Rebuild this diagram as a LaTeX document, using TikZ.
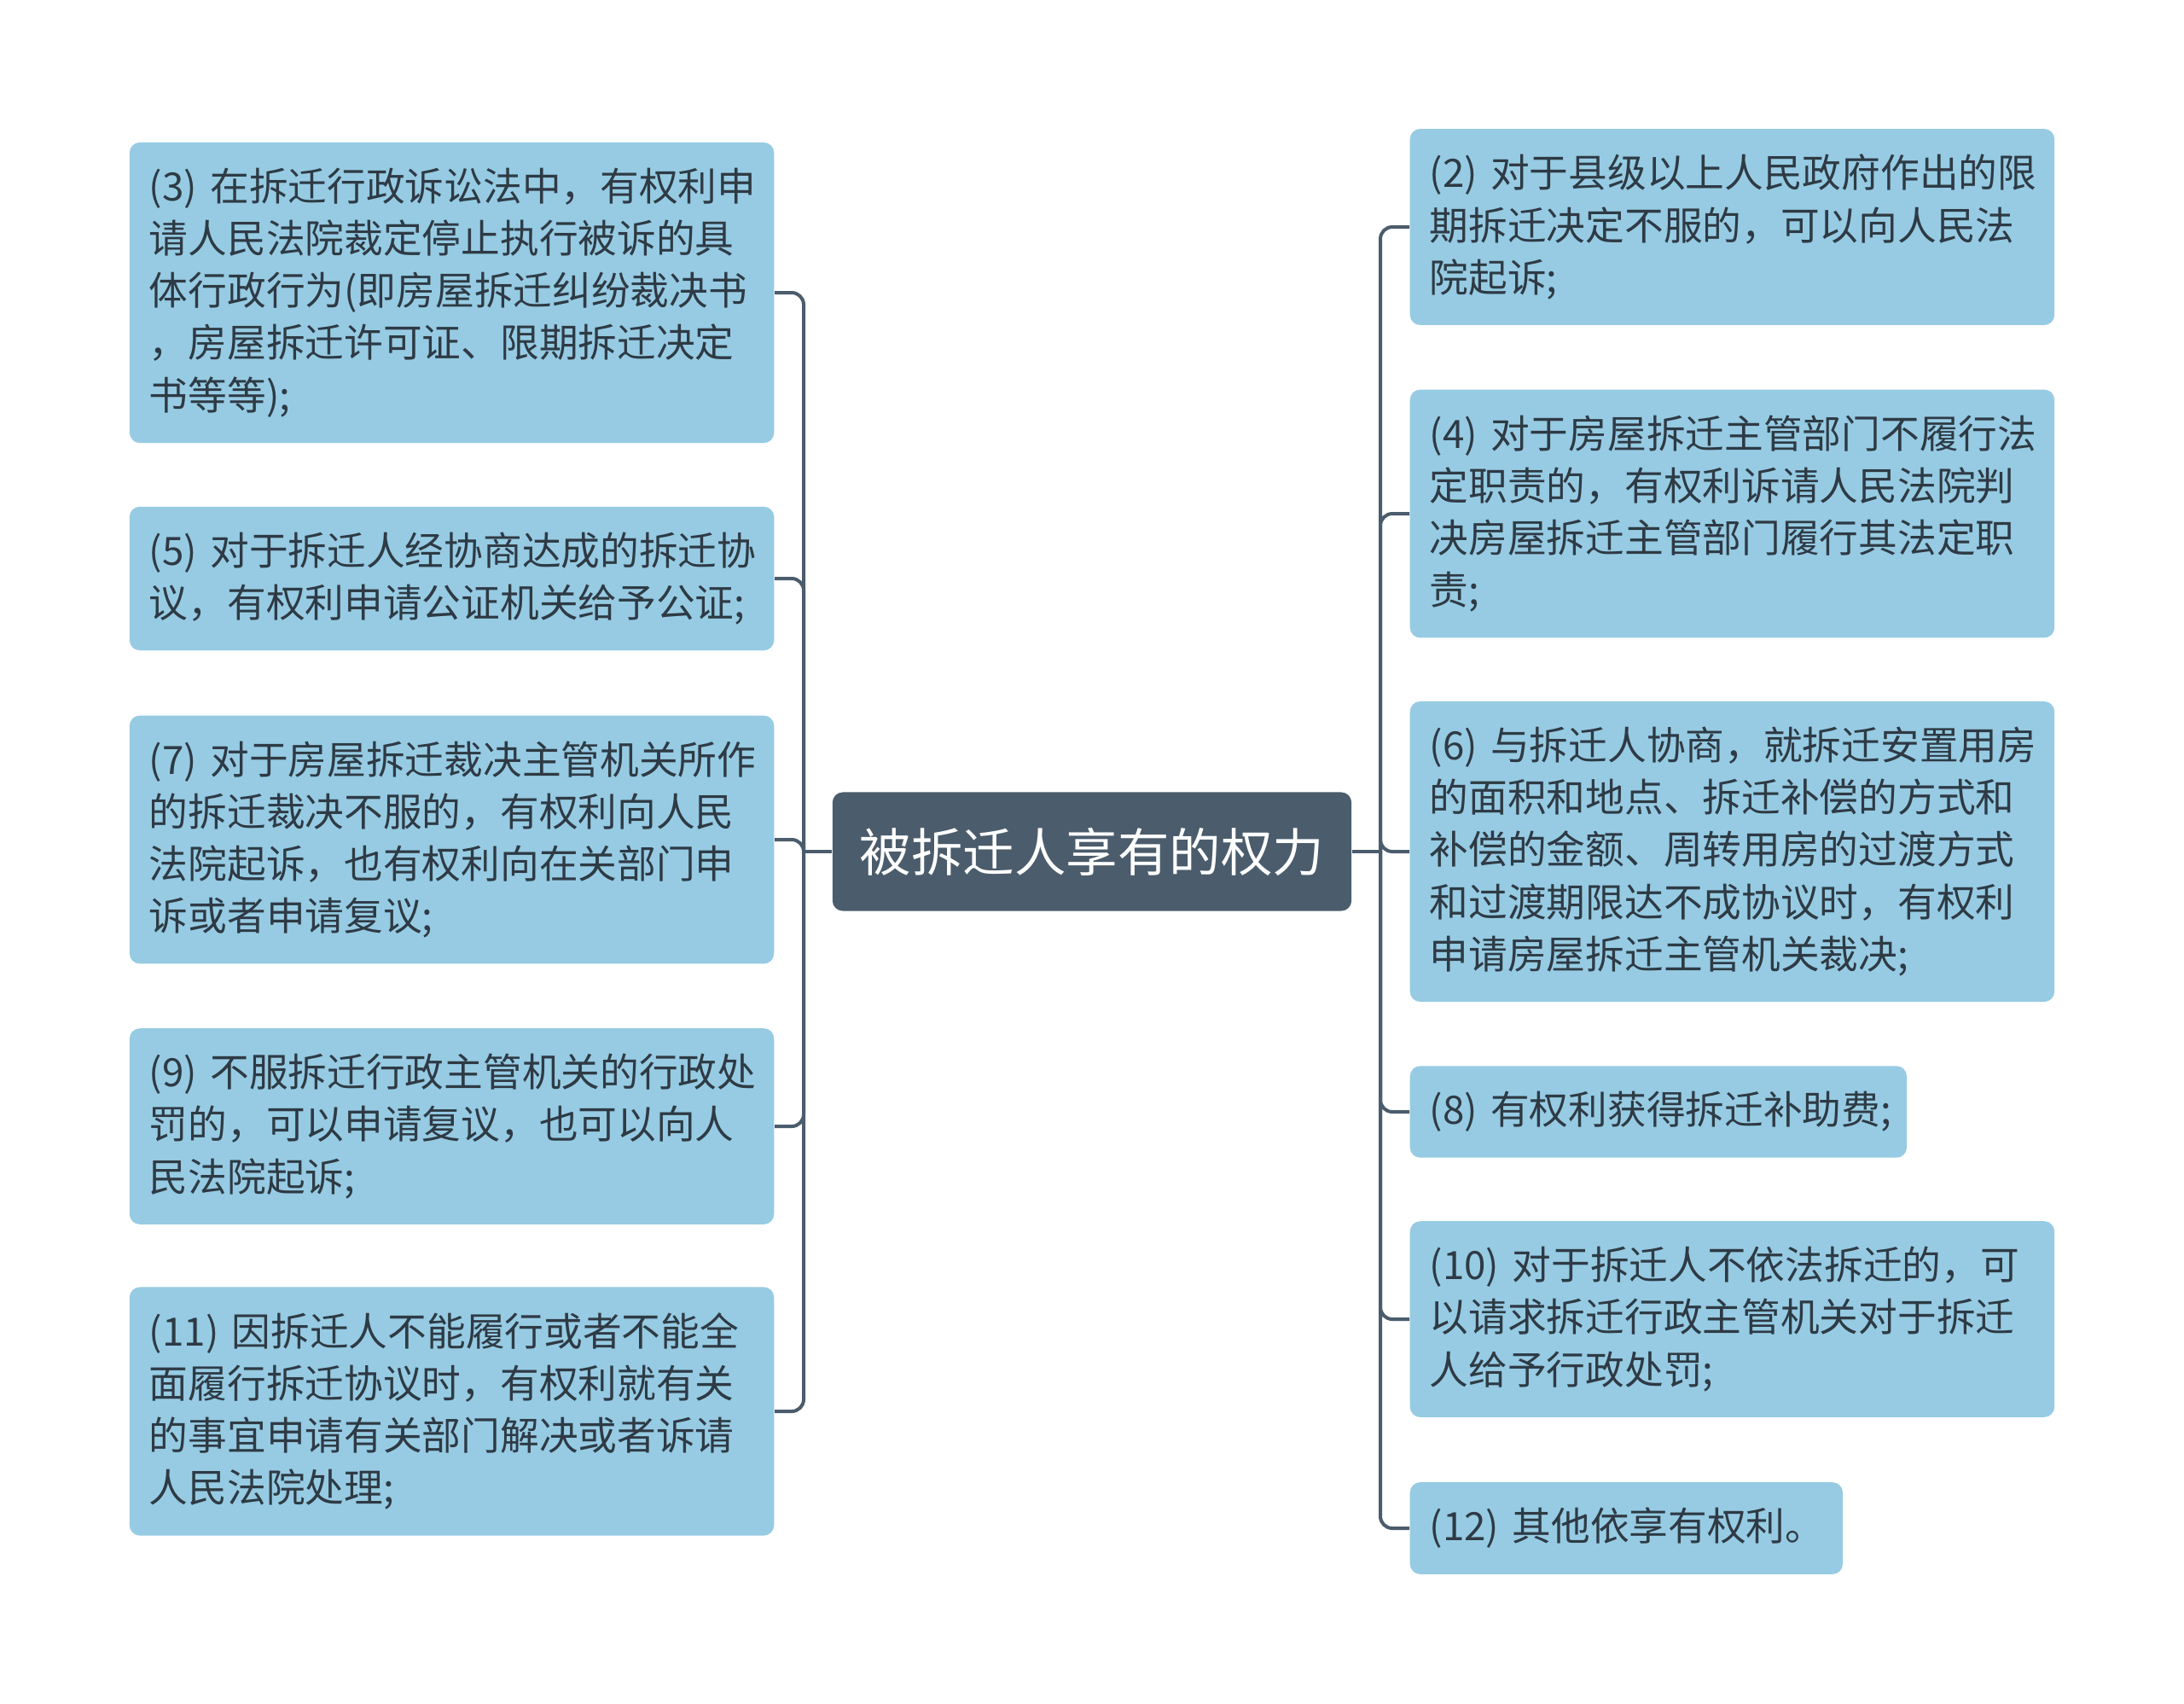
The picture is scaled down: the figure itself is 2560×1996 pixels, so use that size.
\documentclass[tikz,border=0pt]{standalone}
\usepackage{fontspec}
\setmainfont{Noto Sans CJK SC}
\definecolor{leafblue}{HTML}{96CBE3}
\definecolor{slate}{HTML}{4B5C6C}
\definecolor{ink}{HTML}{2E3A44}
\tikzset{
  leaf/.style={fill=leafblue, rounded corners=0.12cm, text=ink, align=left,
    text width=7.09cm, inner xsep=0.23cm, inner ysep=0.3cm,
    font=\fontsize{13pt}{17.4pt}\selectfont},
  root/.style={fill=slate, rounded corners=0.12cm, text=white,
    minimum width=6.08cm, minimum height=1.39cm,
    font=\fontsize{17.2pt}{20pt}\selectfont},
  link/.style={draw=slate, line width=0.04cm, rounded corners=0.14cm}
}
\begin{document}
\begin{tikzpicture}[x=0.01cm, y=-0.01cm]
\useasboundingbox (0,0) rectangle (2560,1996);
\node[root] (root) at (1280,998) {被拆迁人享有的权力};
% left side
\node[leaf, anchor=east] (c3) at (908,343) {(3)~在拆迁行政诉讼法中，有权利申\\请人民法院裁定停止执行被诉的具\\体行政行为(即房屋拆迁纠纷裁决书\\，房屋拆迁许可证、限期拆迁决定\\书等等);};
\node[leaf, anchor=east] (c5) at (908,678) {(5)~对于拆迁人经协商达成的拆迁协\\议，有权利申请公证机关给予公证;};
\node[leaf, anchor=east] (c7) at (908,984) {(7)~对于房屋拆迁裁决主管机关所作\\的拆迁裁决不服的，有权利向人民\\法院起诉，也有权利向在关部门申\\诉或者申请复议;};
\node[leaf, anchor=east] (c9) at (908,1320) {(9)~不服拆迁行政主管机关的行政处\\罚的，可以申请复议，也可以向人\\民法院起诉;};
\node[leaf, anchor=east] (c11) at (908,1654) {(11)~因拆迁人不能履行或者不能全\\面履行拆迁协议时，有权利就有关\\的事宜申请有关部门解决或者诉请\\人民法院处理;};
% right side
\node[leaf, anchor=west] (c2) at (1652,266) {(2)~对于县级以上人民政府作出的限\\期拆迁决定不服的，可以向人民法\\院起诉;};
\node[leaf, anchor=west] (c4) at (1652,602) {(4)~对于房屋拆迁主管部门不履行法\\定职责的，有权利诉请人民法院判\\决房屋拆迁主管部门履行其法定职\\责;};
\node[leaf, anchor=west] (c6) at (1652,998) {(6)~与拆迁人协商，就拆迁安置用房\\的面积和地点、拆迁补偿的方式和\\补偿的金额、周转用房的过渡方式\\和过渡期限达不成协议时，有权利\\申请房屋拆迁主管机关裁决;};
\node[leaf, anchor=west, text width=5.36cm] (c8) at (1652,1303) {(8)~有权利获得拆迁补助费;};
\node[leaf, anchor=west] (c10) at (1652,1546) {(10)~对于拆迁人不依法拆迁的，可\\以请求拆迁行政主管机关对于拆迁\\人给予行政处罚;};
\node[leaf, anchor=west, text width=4.61cm] (c12) at (1652,1791) {(12)~其他依享有权利。};
\coordinate (lt) at (942,998);
\coordinate (rt) at (1618,998);
\draw[link] (root.west) -- (lt);
\draw[link] (root.east) -- (rt);
\foreach \c in {c3,c5,c7,c9,c11}
  \draw[link] (lt) |- (\c.east);
\foreach \c in {c2,c4,c6,c8,c10,c12}
  \draw[link] (rt) |- (\c.west);
\end{tikzpicture}
\end{document}
